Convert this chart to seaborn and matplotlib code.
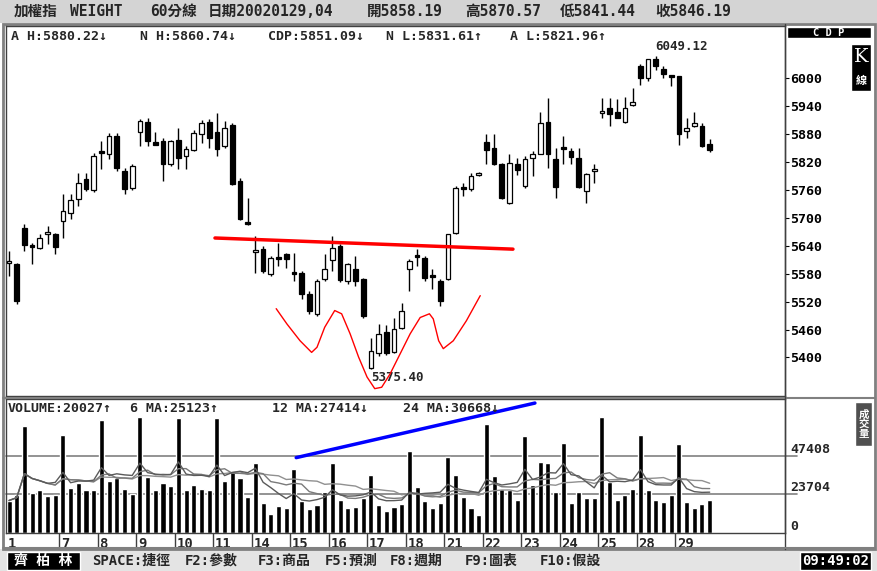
import numpy as np
import pandas as pd
import seaborn as sns
import matplotlib.pyplot as plt
from matplotlib.patches import Rectangle

sns.set_style('white')
plt.rcParams['font.family'] = ['DejaVu Sans Mono', 'Noto Sans CJK TC']
plt.rcParams['font.weight'] = 'bold'
plt.rcParams['font.size'] = 10

W, H = 878, 571

# 加權指 60分線 (2002/01) -- 由圖估讀
opens = [5604, 5601, 5679, 5641, 5636, 5666, 5666, 5694, 5711, 5741,
         5784, 5760, 5843, 5837, 5876, 5801, 5764, 5886, 5906, 5862,
         5865, 5816, 5867, 5833, 5846, 5880, 5906, 5886, 5854, 5899,
         5779, 5691, 5628, 5634, 5580, 5615, 5623, 5583, 5582, 5537,
         5494, 5569, 5610, 5640, 5565, 5591, 5569, 5378, 5409, 5454,
         5411, 5464, 5591, 5620, 5614, 5577, 5565, 5569, 5668, 5765,
         5762, 5793, 5863, 5850, 5816, 5732, 5816, 5769, 5829, 5837,
         5906, 5826, 5851, 5844, 5829, 5758, 5801, 5927, 5936, 5929,
         5906, 5942, 6026, 6000, 6041, 6021, 6006.5, 6006, 5889, 5897,
         5897, 5858.19]
highs = [5629, 5604, 5687, 5646, 5666, 5683, 5668, 5751, 5751, 5796,
         5796, 5839, 5865, 5882, 5882, 5807, 5816, 5912, 5914, 5886,
         5871, 5867, 5893, 5854, 5889, 5910, 5912, 5925, 5908, 5904,
         5786, 5743, 5661, 5640, 5619, 5646, 5625, 5625, 5586, 5544,
         5569, 5623, 5661, 5644, 5604, 5619, 5571, 5443, 5473, 5469,
         5484, 5518, 5612, 5634, 5619, 5591, 5569, 5666, 5769, 5775,
         5796, 5799, 5880, 5880, 5818, 5837, 5829, 5833, 5844, 5929,
         5957, 5850, 5876, 5850, 5850, 5796, 5816, 5957, 5957, 5955,
         5961, 5979, 6032, 6043, 6049.12, 6026, 6006.5, 6006, 5914, 5929,
         5904, 5870.57]
lows = [5576, 5516, 5629, 5601, 5634, 5644, 5623, 5657, 5698, 5726,
        5758, 5756, 5805, 5826, 5801, 5751, 5760, 5854, 5854, 5857,
        5779, 5811, 5805, 5805, 5844, 5861, 5850, 5833, 5850, 5771,
        5696, 5686, 5582, 5582, 5576, 5597, 5593, 5565, 5526, 5494,
        5490, 5565, 5586, 5563, 5559, 5554, 5486, 5375.4, 5404, 5406,
        5409, 5462, 5544, 5597, 5565, 5548, 5511, 5567, 5666, 5747,
        5758, 5790, 5816, 5814, 5741, 5730, 5792, 5764, 5790, 5837,
        5807, 5743, 5816, 5816, 5764, 5732, 5775, 5914, 5897, 5914,
        5904, 5940, 5987, 5994, 6019, 6000, 5983, 5856, 5871, 5895,
        5852, 5841.44]
closes = [5607, 5522, 5642, 5638, 5657, 5669, 5638, 5715, 5739, 5775,
          5762, 5833, 5840, 5876, 5807, 5762, 5811, 5908, 5865, 5859,
          5816, 5865, 5829, 5848, 5882, 5904, 5871, 5848, 5893, 5773,
          5698, 5688, 5631, 5586, 5614, 5613, 5612, 5581, 5537, 5499,
          5565, 5591, 5636, 5567, 5601, 5565, 5490, 5415, 5451, 5409,
          5462, 5501, 5608, 5617, 5571, 5574, 5522, 5666, 5764, 5763,
          5790, 5796, 5846, 5816, 5743, 5818, 5803, 5826, 5837, 5904,
          5837, 5766, 5849, 5831, 5766, 5794, 5804, 5930, 5923, 5916,
          5936, 5949, 6000, 6041, 6026, 6009, 6005.5, 5880, 5892, 5904,
          5854, 5846.19]
volumes = [20000, 23500, 66000, 24800, 26600, 22500, 23500, 60500, 27900, 31000,
           26200, 26200, 69400, 32000, 33900, 27000, 24100, 71500, 34500, 26600,
           30800, 28700, 70500, 26600, 29300, 27300, 26600, 70500, 31800, 38000,
           33900, 22000, 43200, 18500, 12000, 16400, 15200, 39700, 20000, 14800,
           17300, 25100, 42900, 20600, 15400, 15800, 21400, 35600, 17300, 13700,
           15800, 17900, 50700, 28300, 20000, 15400, 18500, 47000, 35600, 22000,
           15200, 11200, 67200, 34900, 26800, 26200, 20600, 59500, 29700, 43900,
           42900, 25100, 55300, 18500, 25100, 21400, 21400, 71300, 31400, 20600,
           23500, 27300, 60100, 26600, 20600, 19300, 23500, 54700, 19300, 15400,
           17900, 20027]

day_labels = ['1', '7', '8', '9', '10', '11', '14', '15', '16', '17', '18',
              '21', '22', '23', '24', '25', '28', '29']
day_starts = [0, 7, 12, 17, 22, 27, 32, 37, 42, 47, 52, 57, 62, 67, 72, 77, 82, 87]
price_ticks = [5400, 5460, 5520, 5580, 5640, 5700, 5760, 5820, 5880, 5940, 6000]
vol_ticks = [23704, 47408]

# 頸線 / 頭肩底示意 / 量的趨勢線
neck_x = [26.75, 65.45]
neck_y = [5657, 5633]
curve_x = [34.7, 36.1, 37.8, 39.3, 40.0, 41.0, 42.3, 43.2, 44.3, 45.4, 46.5, 47.5,
           48.4, 49.5, 50.8, 52.1, 53.4, 54.6, 55.1, 55.8, 56.4, 57.7, 59.4, 61.2]
curve_y = [5505, 5472, 5436, 5411, 5422, 5465, 5501, 5494, 5451, 5401, 5358, 5333,
           5336, 5365, 5408, 5451, 5486, 5494, 5483, 5436, 5419, 5436, 5479, 5533]
trend_x = [37.3, 68.3]
trend_v = [46400, 80000]

df = pd.DataFrame({'open': opens, 'high': highs, 'low': lows, 'close': closes, 'vol': volumes})
df['idx'] = np.arange(len(df))
df['ma6'] = df['vol'].rolling(6, min_periods=1).mean()
df['ma12'] = df['vol'].rolling(12, min_periods=1).mean()
df['ma24'] = df['vol'].rolling(24, min_periods=1).mean()

fig = plt.figure(figsize=(W / 100, H / 100), dpi=100, facecolor='white')


def box(x0, y0, x1, y1):
    return [x0 / W, 1 - y1 / H, (x1 - x0) / W, (y1 - y0) / H]


def ftext(x, y, s, **kw):
    kw.setdefault('va', 'center')
    kw.setdefault('zorder', 6)
    fig.text(x / W, 1 - y / H, s, **kw)


def frect(x0, y0, x1, y1, **kw):
    fig.patches.append(Rectangle((x0 / W, 1 - y1 / H), (x1 - x0) / W, (y1 - y0) / H,
                                 transform=fig.transFigure, **kw))


def fline(x0, y0, x1, y1, **kw):
    fig.lines.append(plt.Line2D([x0 / W, x1 / W], [1 - y0 / H, 1 - y1 / H],
                                transform=fig.transFigure, **kw))


# 背景與框線
frect(0, 0, W, 23, facecolor='#d4d4d4', edgecolor='none', zorder=-2)
frect(0, 549, W, H, facecolor='#e4e4e4', edgecolor='none', zorder=-2)
frect(3, 24, 875, 549, facecolor='white', edgecolor='#808080', lw=2, zorder=-1)

XL = (-0.39, 100.78)

# ---- K線 ----
ax = fig.add_axes(box(6, 26, 785, 396))
ax.set_facecolor('none')
ax.set_xlim(*XL)
ax.set_ylim(5317.2, 6112.9)
up = df['close'] >= df['open']
mid = (df['open'] + df['close']) / 2
bh = np.maximum((df['close'] - df['open']).abs(), 5)
ax.vlines(df['idx'], df['low'], df['high'], color='black', lw=1, zorder=2)
ax.bar(df['idx'], bh, bottom=mid - bh / 2, width=0.62,
       color=np.where(up, 'white', 'black'), edgecolor='black', linewidth=0.9, zorder=3)
ax.plot(neck_x, neck_y, color='#ff0000', lw=2.5, zorder=4)
ax.plot(curve_x, curve_y, color='#ff0000', lw=1, zorder=4)
ax.text(83.9, 6068, '6049.12', fontsize=9, ha='left', va='center')
ax.text(47.0, 5358, '5375.40', fontsize=9, ha='left', va='center')
ax.set_xticks([])
ax.yaxis.tick_right()
ax.set_yticks(price_ticks)
ax.set_yticklabels([str(t) for t in price_ticks])
ax.tick_params(axis='y', direction='out', length=3, pad=1, labelsize=9.5, colors='black')
for sp in ax.spines.values():
    sp.set_color('#404040')
    sp.set_linewidth(1)

# ---- 成交量 ----
axv = fig.add_axes(box(6, 399, 785, 533))
axv.set_facecolor('none')
sns.barplot(data=df, x='idx', y='vol', color='black', saturation=1, width=0.65, ax=axv, zorder=2)
sns.lineplot(x=df['idx'], y=df['ma24'], ax=axv, color='#909090', lw=1, zorder=3)
sns.lineplot(x=df['idx'], y=df['ma12'], ax=axv, color='#7a7a7a', lw=1, zorder=3)
sns.lineplot(x=df['idx'], y=df['ma6'], ax=axv, color='#5a5a5a', lw=1, zorder=3)
for v in vol_ticks:
    axv.axhline(v, xmax=1.016, color='#808080', lw=1.2, clip_on=False, zorder=1)
axv.plot(trend_x, trend_v, color='#0000ff', lw=2.5, clip_on=False, zorder=4)
axv.set_xlim(*XL)
axv.set_ylim(0, 82500)
axv.set_xlabel('')
axv.set_ylabel('')
axv.set_yticks([])
axv.set_xticks([s - 0.5 for s in day_starts[1:]])
axv.set_xticklabels([])
axv.tick_params(axis='x', direction='out', length=10, width=1, color='#404040', bottom=True)
for lab, s in zip(day_labels, day_starts):
    xs = -0.15 if s == 0 else s - 0.25
    axv.text(xs, -0.03, lab, transform=axv.get_xaxis_transform(), ha='left', va='top', fontsize=10)
for v, lab in [(0, '0'), (23704, '23704'), (47408, '47408')]:
    axv.text(1.007, v, lab, transform=axv.get_yaxis_transform(), ha='left', va='bottom', fontsize=9.5)
for sp in axv.spines.values():
    sp.set_color('#404040')
    sp.set_linewidth(1)

# 分隔線
fline(3, 397.5, 875, 397.5, color='#808080', lw=1.5)
fline(785, 24, 785, 549, color='#404040', lw=1)
fline(3, 548, 875, 548, color='#808080', lw=1.5)

# 標題列
for x, s in [(14, '加權指'), (70, 'WEIGHT'), (150, '60分線'), (208, '日期20020129,04'),
             (367, '開5858.19'), (465, '高5870.57'), (560, '低5841.44'), (655, '收5846.19')]:
    ftext(x, 11.5, s, fontsize=10.5)
for x, s in [(11, 'A H:5880.22↓'), (140, 'N H:5860.74↓'), (268, 'CDP:5851.09↓'),
             (386, 'N L:5831.61↑'), (510, 'A L:5821.96↑')]:
    ftext(x, 36, s, fontsize=9.5)
for x, s in [(8, 'VOLUME:20027↑'), (130, '6 MA:25123↑'), (272, '12 MA:27414↓'),
             (403, '24 MA:30668↓')]:
    ftext(x, 408, s, fontsize=9.5)

# 右側標示
frect(787, 27, 871, 38, facecolor='black', zorder=5)
ftext(829, 32.5, 'C D P', color='white', ha='center', fontsize=7.5)
frect(851, 44, 871, 91, facecolor='black', zorder=5)
ftext(861, 57, 'K', color='white', ha='center', fontsize=14, family='DejaVu Serif', weight='normal')
ftext(861, 81, '線', color='white', ha='center', fontsize=8)
frect(855, 402, 872, 446, facecolor='#505050', zorder=5)
ftext(863.5, 424, '成\n交\n量', color='white', ha='center', fontsize=7.5, linespacing=0.95)

# 狀態列
frect(7, 552, 80, 570, facecolor='black', zorder=5)
ftext(43.5, 561, '齊 柏 林', color='white', ha='center', fontsize=10)
for x, s in [(92, 'SPACE:捷徑'), (185, 'F2:參數'), (258, 'F3:商品'), (325, 'F5:預測'),
             (390, 'F8:週期'), (465, 'F9:圖表'), (540, 'F10:假設')]:
    ftext(x, 561, s, fontsize=10)
frect(800, 552, 871, 570, facecolor='black', zorder=5)
ftext(835.5, 561, '09:49:02', color='white', ha='center', fontsize=10)

fig.savefig('out.png', dpi=100, facecolor='white')
